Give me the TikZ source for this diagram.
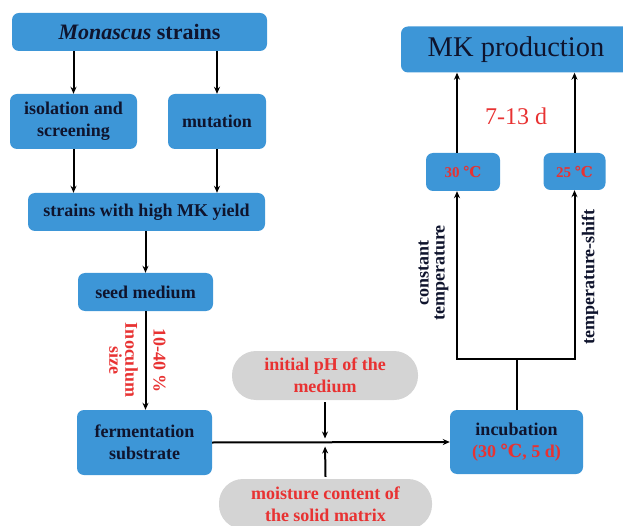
\documentclass[tikz,border=0pt]{standalone}
\usepackage{fontspec}
\setmainfont{Liberation Serif}
\newfontfamily\celsfont{DejaVu Serif}
\usetikzlibrary{arrows.meta}
\definecolor{boxblue}{RGB}{61,150,215}
\definecolor{navy}{RGB}{15,20,45}
\definecolor{redt}{RGB}{232,50,50}
\definecolor{greyf}{RGB}{212,212,212}
\newcommand\cels{{\celsfont\char"2103}}
\begin{document}
\begin{tikzpicture}[x=1pt,y=-1pt,
  box/.style={fill=boxblue, rounded corners=7pt, align=center, text=navy,
    font=\fontsize{18}{22}\selectfont\bfseries, inner sep=0pt},
  pill/.style={fill=greyf, rounded corners=24pt, align=center, text=redt,
    font=\fontsize{18}{22}\selectfont\bfseries, inner sep=0pt},
  arr/.style={-{Stealth[length=7pt,width=6pt]}, line width=2pt},
  ln/.style={line width=2pt},
  lbl/.style={text=redt, font=\fontsize{18}{16}\selectfont\bfseries, align=center, inner sep=0pt},
  blbl/.style={text=navy, font=\fontsize{18}{16}\selectfont\bfseries, align=center, inner sep=0pt}]
\useasboundingbox (0,0) rectangle (623,526);
% boxes
\node[box, minimum width=255pt, minimum height=38pt] (mona) at (139.5,32)
  {\fontsize{22}{24}\selectfont\textit{Monascus} strains};
\node[box, minimum width=127pt, minimum height=55pt] (iso) at (73.5,121.5) {isolation and\\screening};
\node[box, minimum width=98pt, minimum height=55pt] (mut) at (217,121.5) {mutation};
\node[box, minimum width=237pt, minimum height=38pt] (high) at (146.5,212) {strains with high MK yield};
\node[box, minimum width=135pt, minimum height=38pt] (seed) at (145.5,292) {seed medium};
\node[box, minimum width=135pt, minimum height=65pt] (ferm) at (144.5,442.5) {fermentation\\substrate};
\node[box, minimum width=133pt, minimum height=64pt] (incub) at (516.5,442) {incubation\\\textcolor{redt}{(30 \cels, 5 d)}};
\node[box, minimum width=230pt, minimum height=46pt, font=\fontsize{28.5}{30}\selectfont] (mk) at (516,49.5) {MK production};
\node[box, minimum width=74pt, minimum height=38pt, text=redt, font=\fontsize{15}{18}\selectfont\bfseries] (t30) at (463,172) {30 \cels};
\node[box, minimum width=62pt, minimum height=37pt, text=redt, font=\fontsize{15}{18}\selectfont\bfseries] (t25) at (574.5,171.5) {25 \cels};
\node[pill, minimum width=186pt, minimum height=49pt] (ph) at (325,375.5) {initial pH of the\\medium};
\node[pill, minimum width=213pt, minimum height=50pt] (moist) at (325.5,504) {moisture content of\\the solid matrix};
% labels
\node[lbl, rotate=-90] (inoc) at (123.5,360) {Inoculum\\size};
\node[lbl, rotate=-90] (pct) at (159.5,360.5) {10-40 \%};
\node[text=redt, font=\fontsize{24}{26}\selectfont, inner sep=0pt] (days) at (516,116) {7-13 d};
\node[blbl, rotate=90] (const) at (433.5,273) {constant\\temperature};
\node[blbl, rotate=90] (shift) at (590,277) {temperature-shift};
% connectors
\draw[arr] (mona.south -| iso) -- (iso.north);
\draw[arr] (mona.south -| mut) -- (mut.north);
\draw[arr] (iso.south) -- (iso.south |- high.north);
\draw[arr] (mut.south) -- (mut.south |- high.north);
\draw[arr] (seed.north |- high.south) -- (seed.north);
\draw[arr] (seed.south) -- (seed.south |- ferm.north);
\draw[arr] (ferm.east) -- (incub.west);
\coordinate (J) at (ph.south |- ferm.east);
\draw[arr, shorten >=4pt] (ph.south) ++(0,2) -- (J);
\draw[arr, shorten >=4pt] (moist.north) ++(0,-2) -- (J);
\coordinate (bl) at (457,359);
\coordinate (br) at (t25.south |- bl);
\coordinate (bm) at (incub.north |- bl);
\draw[ln] (incub.north) -- (bm);
\draw[arr] (bm) -- (bl) -- (bl |- t30.south);
\draw[arr] (bm) -- (br) -- (t25.south);
\draw[arr] (bl |- t30.north) -- (bl |- mk.south);
\draw[arr] (t25.north) -- (t25.north |- mk.south);
\end{tikzpicture}
\end{document}
